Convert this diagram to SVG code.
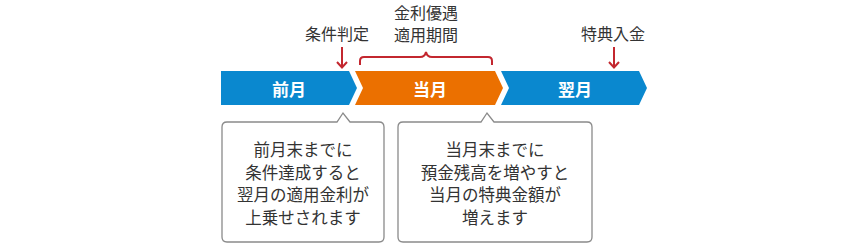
<svg xmlns="http://www.w3.org/2000/svg" width="868" height="246" viewBox="0 0 868 246">
<style>
text{font-family:"Noto Sans CJK JP","Noto Sans",sans-serif;text-anchor:middle;dominant-baseline:central}
.lbl{font-size:16px;fill:#333}
.band{font-size:17px;font-weight:bold;fill:#fff}
.body{font-size:16.5px;fill:#333}
.red{fill:none;stroke:#c3272f;stroke-width:2}
.box{fill:#fff;stroke:#8a8a8a;stroke-width:1.3}
</style>
<rect width="868" height="246" fill="#fff"/>
<g id="prev">
<polygon points="221,71 349,71 357,88 349,105 221,105" fill="#0a88cf"/>
<text class="band" x="289" y="88">前月</text>
</g>
<g id="curr">
<polygon points="355,71 495,71 503,88 495,105 355,105 363,88" fill="#eb7000"/>
<text class="band" x="430" y="88">当月</text>
</g>
<g id="next">
<polygon points="501,71 639,71 647,88 639,105 501,105 509,88" fill="#0a88cf"/>
<text class="band" x="575" y="88">翌月</text>
</g>
<g id="label-judge">
<text class="lbl" x="337" y="33">条件判定</text>
</g>
<g id="label-period">
<text class="lbl" x="426" y="11.5">金利優遇</text>
<text class="lbl" x="426" y="33.5">適用期間</text>
</g>
<g id="label-pay">
<text class="lbl" x="613" y="33">特典入金</text>
</g>
<g id="connectors">
<line class="red" x1="342" y1="47" x2="342" y2="67"/>
<polyline class="red" points="337,62 342,67.5 347,62"/>
<line class="red" x1="614" y1="47" x2="614" y2="67"/>
<polyline class="red" points="609,62 614,67.5 619,62"/>
<path class="red" d="M360,65 V61 Q360,57 364,57 H420 Q425,57 426,52 Q427,57 432,57 H488 Q492,57 492,61 V65"/>
</g>
<g id="callout1">
<path class="box" d="M227,122 H337 L343,113 L350,122 H379 Q384,122 384,127 V237 Q384,242 379,242 H227 Q222,242 222,237 V127 Q222,122 227,122 Z"/>
<text class="body" x="303" y="149">前月末までに</text>
<text class="body" x="303" y="171.5">条件達成すると</text>
<text class="body" x="303" y="194">翌月の適用金利が</text>
<text class="body" x="303" y="216.5">上乗せされます</text>
</g>
<g id="callout2">
<path class="box" d="M403,122 H481 L487,113 L494,122 H587 Q592,122 592,127 V237 Q592,242 587,242 H403 Q398,242 398,237 V127 Q398,122 403,122 Z"/>
<text class="body" x="495" y="149">当月末までに</text>
<text class="body" x="495" y="171.5">預金残高を増やすと</text>
<text class="body" x="495" y="194">当月の特典金額が</text>
<text class="body" x="495" y="216.5">増えます</text>
</g>
</svg>
